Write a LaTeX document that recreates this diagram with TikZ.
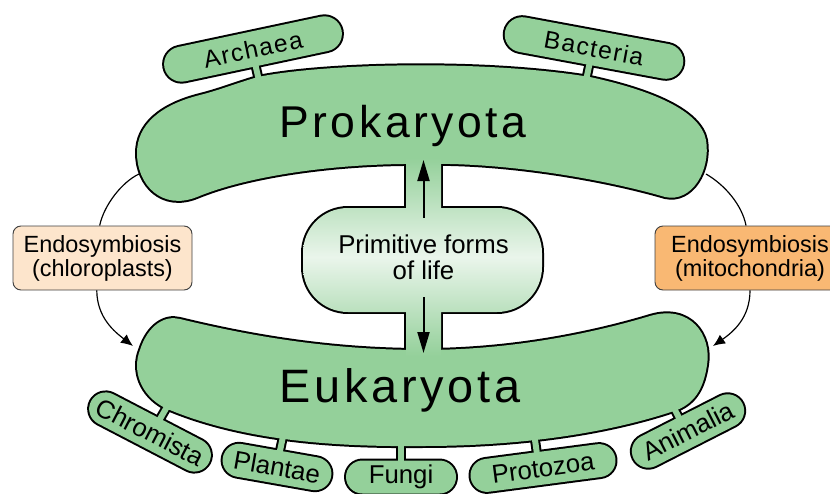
\documentclass[tikz,border=0pt]{standalone}
\usepackage{fontspec}
\setmainfont{Liberation Sans}
\usepackage{tikz}
\usetikzlibrary{shapes.misc,arrows.meta}
\usepackage{xcolor}
\definecolor{leafgreen}{RGB}{148,208,154}
\definecolor{palegreen}{RGB}{234,245,235}
\definecolor{peach}{RGB}{253,229,204}
\definecolor{apricot}{RGB}{249,184,115}
\tikzset{
    rim/.style={draw=black, line width=3.4pt},
    pill/.style={rounded rectangle, minimum height=#1*0.3mm, inner sep=0pt},
    neck/.style={rectangle, minimum width=6*0.3mm,
                 minimum height=20*0.3mm, inner sep=0pt},
    domaintag/.style={font=\fontsize{21}{21}\selectfont\addfontfeatures{LetterSpace=6}},
    kingdomtag/.style={font=\fontsize{22}{22}\selectfont},
    realmtag/.style={font=\fontsize{#1}{#1}\selectfont\addfontfeatures{LetterSpace=8},
                  anchor=base},
    fusion/.style={draw=black!75, line width=0.8pt, rounded corners=2.4mm,
                   fill=#1, minimum height=64*0.3mm, align=center,
                   font=\fontsize{20}{20.4}\selectfont},
    link/.style={line width=1pt},
    jump/.style={-{Latex[length=3.6mm,width=3.2mm]}, line width=1pt},
    lift/.style={-{Triangle[length=6.3mm,width=3.6mm]}, line width=1.7pt},
}
\newcommand{\prokaryotapath}{(258,77) .. controls (320,64) and (480,59) .. (590,77)
    .. controls (650,90) and (700,110) .. (706,140)
    .. controls (711,170) and (692,203) .. (665,197)
    .. controls (600,178) and (500,162) .. (423,164)
    .. controls (340,163) and (250,175) .. (197,197)
    .. controls (162,211) and (137,185) .. (137,153)
    .. controls (137,125) and (160,105) .. (200,95)
    .. controls (220,90) and (240,82) .. (258,77) -- cycle}
\newcommand{\eukaryotapath}{(180,319) .. controls (250,336) and (330,350) .. (423,350)
    .. controls (510,350) and (590,334) .. (650,316)
    .. controls (690,304) and (712,335) .. (707,365)
    .. controls (704,385) and (697,402) .. (677,410)
    .. controls (600,436) and (510,446) .. (423,446)
    .. controls (330,447) and (240,440) .. (165,408)
    .. controls (140,395) and (132,370) .. (140,350)
    .. controls (148,325) and (165,315) .. (180,319) -- cycle}
\newcommand{\primitivepath}{(406,158) -- (406,208) -- (348,208)
    .. controls (323,208) and (303,228) .. (303,253) -- (303,267)
    .. controls (303,292) and (323,312) .. (348,312) -- (406,312) -- (406,356)
    -- (441,356) -- (441,312) -- (497,312)
    .. controls (522,312) and (542,292) .. (542,267) -- (542,253)
    .. controls (542,228) and (522,208) .. (497,208) -- (441,208) -- (441,158) -- cycle}
\newcommand{\toppills}{archaea/253/49/12/181/Archaea, bacteria/594/48/-10.5/181/Bacteria}
\newcommand{\lowpills}{chromista/150/432/-27.5/133/Chromista, plantae/277/467/-10/110/Plantae,
    fungi/401/477/0/110/Fungi, protozoa/543/468/7.5/146/Protozoa,
    animalia/688/431/27/122/Animalia}
\newcommand{\necklist}{257/72/13, 588/71/-12, 164/412/-30, 281/446/-12,
    401/453/0, 536/447/8, 676/412/27}

\begin{document}
\begin{tikzpicture}[x=0.3mm, y=-0.3mm]
    \useasboundingbox (0,0) rectangle (830,494);
    \clip (0,0) rectangle (830,494);

    % outlines first, fills on top so the joined shapes merge
    \draw[rim] \prokaryotapath;
    \draw[rim] \eukaryotapath;
    \draw[rim] \primitivepath;
    \foreach \n/\x/\y/\a/\l/\t in \toppills
        \node[pill=35, minimum width=\l*0.3mm, rotate=\a, rim] at (\x,\y) {};
    \foreach \n/\x/\y/\a/\l/\t in \lowpills
        \node[pill=33, minimum width=\l*0.3mm, rotate=\a, rim] at (\x,\y) {};
    \foreach \x/\y/\a in \necklist
        \node[neck, rotate=\a, rim] at (\x,\y) {};

    \fill[leafgreen] \prokaryotapath;
    \fill[leafgreen] \eukaryotapath;
    \foreach \n/\x/\y/\a/\l/\t in \toppills
        \node[pill=35, minimum width=\l*0.3mm, rotate=\a, fill=leafgreen, domaintag]
            (\n) at (\x,\y) {\t};
    \foreach \n/\x/\y/\a/\l/\t in \lowpills
        \node[pill=33, minimum width=\l*0.3mm, rotate=\a, fill=leafgreen, kingdomtag]
            (\n) at (\x,\y) {\t};
    \foreach \x/\y/\a in \necklist
        \node[neck, rotate=\a, fill=leafgreen] at (\x,\y) {};
    \shade[top color=leafgreen, bottom color=leafgreen, middle color=palegreen]
        \primitivepath;

    \node[realmtag=38] (prok) at (403,137) {Prokaryota};
    \node[realmtag=40] (euk) at (400,402) {Eukaryota};
    \node[font=\fontsize{22}{22.1}\selectfont, align=center, inner sep=5.1mm]
        (prim) at (423.5,257.5) {Primitive forms\\of life};
    \node[fusion=peach, minimum width=179*0.3mm] (chloro) at (102.5,258)
        {Endosymbiosis\\(chloroplasts)};
    \node[fusion=apricot, minimum width=190*0.3mm] (mito) at (750,258)
        {Endosymbiosis\\(mitochondria)};

    \coordinate (prokC) at (423.5,160);
    \coordinate (eukC) at (423.5,353);
    \coordinate (prokL) at (139,174);
    \coordinate (prokR) at (706,174);
    \coordinate (eukL) at (133,346);
    \coordinate (eukR) at (713,346);

    \draw[lift] (prim.north) -- (prokC);
    \draw[lift] (prim.south) -- (eukC);
    \draw[link] (prokL) .. controls (122,182) and (104,205) .. (chloro.95);
    \draw[jump] (chloro.-100) .. controls (97,318) and (115,332) .. (eukL);
    \draw[link] (prokR) .. controls (725,185) and (742,205) .. (mito.97);
    \draw[jump] (mito.-90) .. controls (750,318) and (733,332) .. (eukR);
\end{tikzpicture}
\end{document}
